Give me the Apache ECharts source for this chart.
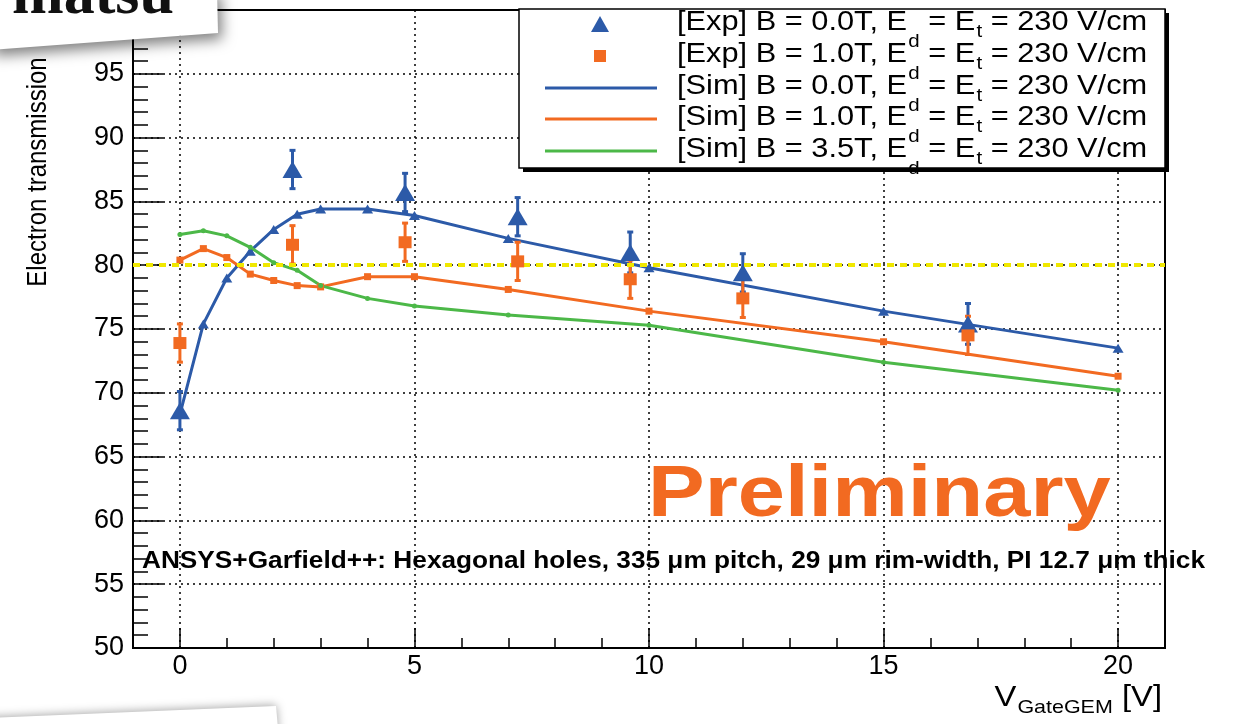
<!DOCTYPE html>
<html>
<head>
<meta charset="utf-8">
<title>Electron transmission vs V_GateGEM</title>
<script src="https://cdn.jsdelivr.net/npm/echarts@6/dist/echarts.min.js"></script>
<style>
  html, body { margin: 0; padding: 0; background: #fff; }
  #chart { width: 1233px; height: 724px; }
</style>
</head>
<body>
<div id="chart"></div>
<script>
// simulation points (gate GEM voltage in V)
const simX = [0, 0.5, 1, 1.5, 2, 2.5, 3, 4, 5, 7, 10, 15, 20];
const simB00 = [68.3, 75.4, 79.0, 81.1, 82.8, 84.0, 84.4, 84.4, 83.9, 82.1, 79.8, 76.4, 73.5];
const simB10 = [80.4, 81.3, 80.6, 79.3, 78.8, 78.4, 78.3, 79.1, 79.1, 78.1, 76.4, 74.0, 71.3];
const simB35 = [82.4, 82.7, 82.3, 81.4, 80.2, 79.6, 78.4, 77.4, 76.8, 76.1, 75.3, 72.4, 70.2];

// measured points
const expX = [0, 2.4, 4.8, 7.2, 9.6, 12, 16.8];
const expB00 = [68.6, 87.5, 85.7, 83.8, 81.0, 79.4, 75.4];
const expB00Err = [1.5, 1.5, 1.5, 1.5, 1.6, 1.5, 1.6];
const expB10 = [73.9, 81.6, 81.8, 80.3, 78.9, 77.4, 74.5];
const expB10Err = [1.5, 1.5, 1.5, 1.5, 1.5, 1.5, 1.5];

const xMajor = [0, 5, 10, 15, 20];
const refLevel = 80;

const legendNames = ['[Exp] B = 0.0T', '[Exp] B = 1.0T', '[Sim] B = 0.0T', '[Sim] B = 1.0T', '[Sim] B = 3.5T'];

const BLUE = '#2c5aa8', ORANGE = '#f26a21', GREEN = '#4cb848', YELLOW = '#f0e800';
const FONT = 'Liberation Sans, Arial, sans-serif';
const legendColors = [BLUE, ORANGE, BLUE, ORANGE, GREEN];

function pairs(xs, ys) { return xs.map((x, i) => [x, ys[i]]); }
function triples(xs, ys, es) { return xs.map((x, i) => [x, ys[i], es[i]]); }

function errorBars(color) {
  return function (params, api) {
    const x = api.value(0), y = api.value(1), e = api.value(2);
    const top = api.coord([x, y + e]);
    const bot = api.coord([x, y - e]);
    const st = { stroke: color, lineWidth: 3 };
    return {
      type: 'group',
      children: [
        { type: 'line', shape: { x1: top[0], y1: top[1], x2: bot[0], y2: bot[1] }, style: st },
        { type: 'line', shape: { x1: top[0] - 3, y1: top[1], x2: top[0] + 3, y2: top[1] }, style: st },
        { type: 'line', shape: { x1: bot[0] - 3, y1: bot[1], x2: bot[0] + 3, y2: bot[1] }, style: st }
      ]
    };
  };
}

const chart = echarts.init(document.getElementById('chart'));

// legend drawn by hand (ROOT style box with shadow and odd subscripts)
const legendItems = [];
const rowY = [24, 56, 88, 119, 151];
legendItems.push({ type: 'rect', shape: { x: 523, y: 13, width: 646, height: 159 }, style: { fill: '#000' }, z: 100 });
legendItems.push({ type: 'rect', shape: { x: 519, y: 9, width: 646, height: 159 }, style: { fill: '#fff', stroke: '#000', lineWidth: 1.5 }, z: 101 });
legendNames.forEach((name, i) => {
  const cy = rowY[i];
  const c = legendColors[i];
  if (i === 0) {
    legendItems.push({ type: 'polygon', shape: { points: [[591, cy + 8], [609, cy + 8], [600, cy - 8]] }, style: { fill: c }, z: 102 });
  } else if (i === 1) {
    legendItems.push({ type: 'rect', shape: { x: 594, y: cy - 6, width: 12, height: 12 }, style: { fill: c }, z: 102 });
  } else {
    legendItems.push({ type: 'line', shape: { x1: 545, y1: cy, x2: 657, y2: cy }, style: { stroke: c, lineWidth: 3 }, z: 102 });
  }
  legendItems.push({
    type: 'text', x: 677, y: cy - 15, scaleX: 1.14, z: 102,
    style: {
      text: '{n|' + name + ', E}{d|d}{n| = E}{t|t}{n| = 230 V/cm}',
      align: 'left', verticalAlign: 'top', fill: '#000', fontFamily: FONT, fontSize: 27,
      rich: {
        n: { fontSize: 27, lineHeight: 30, verticalAlign: 'top', fontFamily: FONT, fill: '#000' },
        d: { fontSize: 18, padding: [24, 0, 0, 1], verticalAlign: 'top', fontFamily: FONT, fill: '#000' },
        t: { fontSize: 18, padding: [14, 0, 0, 1], verticalAlign: 'top', fontFamily: FONT, fill: '#000' }
      }
    }
  });
});

const option = {
  animation: false,
  backgroundColor: '#fff',
  grid: { left: 133, right: 68, top: 10, bottom: 76, show: true, borderColor: '#000', borderWidth: 2 },
  xAxis: [
    {
      type: 'value', min: -1, max: 21, position: 'bottom',
      axisLine: { onZero: false, lineStyle: { color: '#000', width: 2 } },
      axisTick: { inside: true, length: 20, customValues: xMajor, lineStyle: { color: '#000', width: 1.5 } },
      axisLabel: { customValues: xMajor, color: '#000', fontSize: 27, fontFamily: FONT, margin: 5 },
      splitLine: { show: true, lineStyle: { color: '#000', width: 1.5, type: [2, 4] } }
    },
    {
      type: 'value', min: -1, max: 21, interval: 1, position: 'bottom',
      axisLine: { show: false, onZero: false },
      axisTick: { inside: true, length: 10, lineStyle: { color: '#000', width: 1.5 } },
      axisLabel: { show: false },
      splitLine: { show: false }
    }
  ],
  yAxis: {
    type: 'value', min: 50, max: 100, interval: 5,
    axisLine: { show: true, onZero: false, lineStyle: { color: '#000', width: 2 } },
    axisTick: { inside: true, length: 30, lineStyle: { color: '#000', width: 1.5 } },
    minorTick: { show: true, splitNumber: 5, length: 15, lineStyle: { color: '#000', width: 1.5 } },
    axisLabel: { color: '#000', fontSize: 27, fontFamily: FONT, margin: 9, showMaxLabel: false },
    splitLine: { show: true, lineStyle: { color: '#000', width: 1.5, type: [2, 4] } }
  },
  series: [
    {
      name: '[Sim] B = 0.0T', type: 'line', data: pairs(simX, simB00), z: 3,
      symbol: 'triangle', symbolSize: [11, 9], showSymbol: true,
      lineStyle: { color: BLUE, width: 3 }, itemStyle: { color: BLUE },
      markLine: {
        silent: true, symbol: 'none', label: { show: false },
        lineStyle: { color: YELLOW, width: 4, type: [7, 6] },
        data: [{ yAxis: refLevel }]
      }
    },
    {
      name: '[Sim] B = 1.0T', type: 'line', data: pairs(simX, simB10), z: 3,
      symbol: 'rect', symbolSize: 7, showSymbol: true,
      lineStyle: { color: ORANGE, width: 3 }, itemStyle: { color: ORANGE }
    },
    {
      name: '[Sim] B = 3.5T', type: 'line', data: pairs(simX, simB35), z: 3,
      symbol: 'circle', symbolSize: 5, showSymbol: true,
      lineStyle: { color: GREEN, width: 3 }, itemStyle: { color: GREEN }
    },
    {
      name: '[Exp] B = 0.0T err', type: 'custom', data: triples(expX, expB00, expB00Err),
      encode: { x: 0, y: 1 }, renderItem: errorBars(BLUE), z: 4
    },
    {
      name: '[Exp] B = 1.0T err', type: 'custom', data: triples(expX, expB10, expB10Err),
      encode: { x: 0, y: 1 }, renderItem: errorBars(ORANGE), z: 4
    },
    {
      name: '[Exp] B = 0.0T', type: 'scatter', data: pairs(expX, expB00), z: 5,
      symbol: 'triangle', symbolSize: [20, 17], itemStyle: { color: BLUE, opacity: 1 }
    },
    {
      name: '[Exp] B = 1.0T', type: 'scatter', data: pairs(expX, expB10), z: 5,
      symbol: 'rect', symbolSize: [13, 12], itemStyle: { color: ORANGE, opacity: 1 }
    }
  ],
  graphic: legendItems.concat([
    {
      type: 'text', x: 648, y: 496, scaleX: 1.18, z: 90,
      style: { text: 'Preliminary', fontSize: 72, fontWeight: 'bold', fontFamily: FONT, fill: ORANGE, verticalAlign: 'middle' }
    },
    {
      type: 'text', x: 142, y: 562, scaleX: 1.14, z: 90,
      style: {
        text: 'ANSYS+Garfield++: Hexagonal holes, 335 \u03bcm pitch, 29 \u03bcm rim-width, PI 12.7 \u03bcm thick',
        fontSize: 23, fontWeight: 'bold', fontFamily: FONT, fill: '#000', verticalAlign: 'middle'
      }
    },
    {
      type: 'text', x: 38, y: 172, rotation: Math.PI / 2, scaleY: 1.15, z: 90,
      style: { text: 'Electron transmission', fontSize: 24, fontFamily: FONT, fill: '#000', align: 'center', verticalAlign: 'middle' }
    },
    {
      type: 'text', x: 1162, y: 683, scaleX: 1.13, z: 90,
      style: {
        text: '{b|V}{s|GateGEM}{b| [V]}', align: 'right', verticalAlign: 'top', fontFamily: FONT, fill: '#000',
        rich: {
          b: { fontSize: 29, lineHeight: 32, verticalAlign: 'top', fontFamily: FONT, fill: '#000' },
          s: { fontSize: 19, padding: [15, 0, 0, 1], verticalAlign: 'top', fontFamily: FONT, fill: '#000' }
        }
      }
    },
    // slide cards overlapping the figure
    {
      type: 'polygon', z: 200,
      shape: { points: [[-10, -10], [217, -10], [218, 33], [-10, 50]] },
      style: { fill: '#fff', shadowBlur: 14, shadowColor: 'rgba(0,0,0,0.5)', shadowOffsetX: 4, shadowOffsetY: 6 }
    },
    {
      type: 'text', x: 12, y: 28, z: 201,
      style: { text: 'matsu', fontSize: 62, fontWeight: 'bold', fontFamily: 'Liberation Serif, serif', fill: '#111', verticalAlign: 'bottom' }
    },
    {
      type: 'polygon', z: 200,
      shape: { points: [[-10, 718], [276, 706], [279, 740], [-10, 740]] },
      style: { fill: '#fff', shadowBlur: 10, shadowColor: 'rgba(0,0,0,0.35)', shadowOffsetY: -1 }
    }
  ])
};

chart.setOption(option);
</script>
</body>
</html>
